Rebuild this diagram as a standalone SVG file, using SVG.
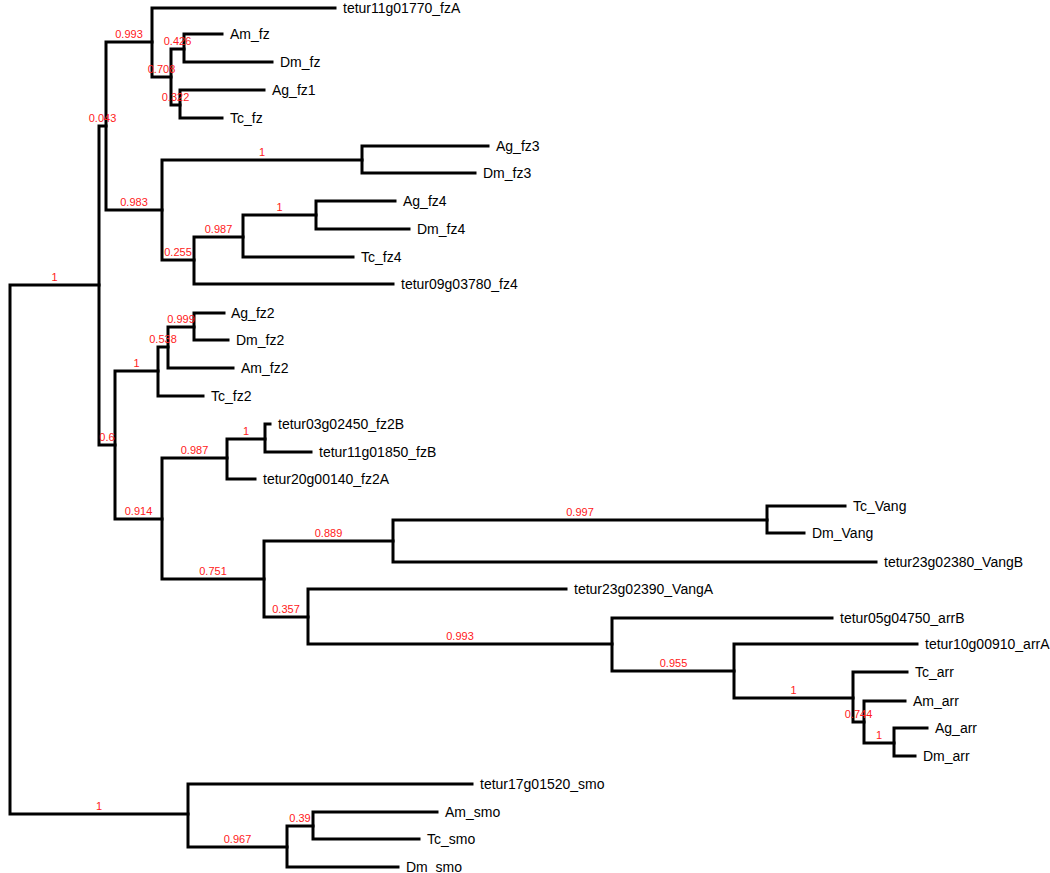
<svg xmlns="http://www.w3.org/2000/svg" width="1050" height="873" viewBox="0 0 1050 873">
<style>
.e{fill:none;stroke:#000;stroke-width:3;stroke-linejoin:miter;stroke-linecap:square}
.l{font-family:"Liberation Sans",Arial,sans-serif;font-size:14px;fill:#000}
.s{font-family:"Liberation Sans",Arial,sans-serif;font-size:11px;fill:#ff2020;text-anchor:middle}
</style>
<rect width="1050" height="873" fill="#fff"/>
<g id="connectors">
<path class="e" d="M10,549V285H99M10,549V814H188"/>
<path class="e" d="M99,285V126H106M99,285V445H115"/>
<path class="e" d="M106,126V42H152M106,126V210H162"/>
<path class="e" d="M152,42V8H335M152,42V77H171"/>
<path class="e" d="M171,77V49H184M171,77V105H180"/>
<path class="e" d="M184,49V34H222M184,49V62H272"/>
<path class="e" d="M180,105V90H264M180,105V118H222"/>
<path class="e" d="M162,210V160H362M162,210V260H194"/>
<path class="e" d="M362,160V146H488M362,160V173H475"/>
<path class="e" d="M194,260V237H243M194,260V284H393"/>
<path class="e" d="M243,237V215H316M243,237V257H353"/>
<path class="e" d="M316,215V201H395M316,215V229H409"/>
<path class="e" d="M115,445V371H158M115,445V519H162"/>
<path class="e" d="M158,371V347H168M158,371V396H203"/>
<path class="e" d="M168,347V327H194M168,347V368H233"/>
<path class="e" d="M194,327V313H224M194,327V340H228"/>
<path class="e" d="M162,519V458H227M162,519V579H264"/>
<path class="e" d="M227,458V439H265M227,458V479H255"/>
<path class="e" d="M265,439V424H270M265,439V452H311"/>
<path class="e" d="M264,579V541H393M264,579V617H308"/>
<path class="e" d="M393,541V520H767M393,541V562H876"/>
<path class="e" d="M767,520V506H845M767,520V533H804"/>
<path class="e" d="M308,617V589H566M308,617V644H612"/>
<path class="e" d="M612,644V618H832M612,644V671H734"/>
<path class="e" d="M734,671V644H917M734,671V698H853"/>
<path class="e" d="M853,698V672H907M853,698V722H864"/>
<path class="e" d="M864,722V701H905M864,722V743H894"/>
<path class="e" d="M894,743V728H927M894,743V756H915"/>
<path class="e" d="M188,814V784H472M188,814V847H287"/>
<path class="e" d="M287,847V826H313M287,847V867H398"/>
<path class="e" d="M313,826V812H437M313,826V839H419"/>
</g>
<g id="n_A"><text class="s" x="54.5" y="281">1</text></g>
<g id="n_043"><text class="s" x="102.5" y="122">0.043</text></g>
<g id="n_993a"><text class="s" x="129" y="38">0.993</text></g>
<g id="n_708"><text class="s" x="161.5" y="73">0.708</text></g>
<g id="n_426"><text class="s" x="177.5" y="45">0.426</text></g>
<g id="n_322"><text class="s" x="175.5" y="101">0.322</text></g>
<g id="n_983"><text class="s" x="134" y="206">0.983</text></g>
<g id="n_1fz3"><text class="s" x="262" y="156">1</text></g>
<g id="n_255"><text class="s" x="178" y="256">0.255</text></g>
<g id="n_987a"><text class="s" x="218.5" y="233">0.987</text></g>
<g id="n_1fz4"><text class="s" x="279.5" y="211">1</text></g>
<g id="n_06"><text class="s" x="107" y="441">0.6</text></g>
<g id="n_1fz2"><text class="s" x="136.5" y="367">1</text></g>
<g id="n_538"><text class="s" x="163" y="343">0.538</text></g>
<g id="n_999"><text class="s" x="181" y="323">0.999</text></g>
<g id="n_914"><text class="s" x="138.5" y="515">0.914</text></g>
<g id="n_987b"><text class="s" x="194.5" y="454">0.987</text></g>
<g id="n_1fz2B"><text class="s" x="246" y="435">1</text></g>
<g id="n_751"><text class="s" x="213" y="575">0.751</text></g>
<g id="n_889"><text class="s" x="328.5" y="537">0.889</text></g>
<g id="n_997"><text class="s" x="580" y="516">0.997</text></g>
<g id="n_357"><text class="s" x="286" y="613">0.357</text></g>
<g id="n_993b"><text class="s" x="460" y="640">0.993</text></g>
<g id="n_955"><text class="s" x="673.5" y="667">0.955</text></g>
<g id="n_1arr"><text class="s" x="793.5" y="694">1</text></g>
<g id="n_744"><text class="s" x="858.5" y="718">0.744</text></g>
<g id="n_1arr2"><text class="s" x="879" y="739">1</text></g>
<g id="n_smo"><text class="s" x="99" y="810">1</text></g>
<g id="n_967"><text class="s" x="237.5" y="843">0.967</text></g>
<g id="n_39"><text class="s" x="300" y="822">0.39</text></g>
<g id="leaf_tetur11g01770_fzA"><text class="l" x="343" y="13">tetur11g01770_fzA</text></g>
<g id="leaf_Am_fz"><text class="l" x="230" y="39">Am_fz</text></g>
<g id="leaf_Dm_fz"><text class="l" x="280" y="67">Dm_fz</text></g>
<g id="leaf_Ag_fz1"><text class="l" x="272" y="95">Ag_fz1</text></g>
<g id="leaf_Tc_fz"><text class="l" x="230" y="123">Tc_fz</text></g>
<g id="leaf_Ag_fz3"><text class="l" x="496" y="151">Ag_fz3</text></g>
<g id="leaf_Dm_fz3"><text class="l" x="483" y="178">Dm_fz3</text></g>
<g id="leaf_Ag_fz4"><text class="l" x="403" y="206">Ag_fz4</text></g>
<g id="leaf_Dm_fz4"><text class="l" x="417" y="234">Dm_fz4</text></g>
<g id="leaf_Tc_fz4"><text class="l" x="361" y="262">Tc_fz4</text></g>
<g id="leaf_tetur09g03780_fz4"><text class="l" x="401" y="289">tetur09g03780_fz4</text></g>
<g id="leaf_Ag_fz2"><text class="l" x="231" y="318">Ag_fz2</text></g>
<g id="leaf_Dm_fz2"><text class="l" x="236" y="345">Dm_fz2</text></g>
<g id="leaf_Am_fz2"><text class="l" x="241" y="373">Am_fz2</text></g>
<g id="leaf_Tc_fz2"><text class="l" x="211" y="401">Tc_fz2</text></g>
<g id="leaf_tetur03g02450_fz2B"><text class="l" x="278" y="429">tetur03g02450_fz2B</text></g>
<g id="leaf_tetur11g01850_fzB"><text class="l" x="319" y="457">tetur11g01850_fzB</text></g>
<g id="leaf_tetur20g00140_fz2A"><text class="l" x="263" y="484">tetur20g00140_fz2A</text></g>
<g id="leaf_Tc_Vang"><text class="l" x="853" y="511">Tc_Vang</text></g>
<g id="leaf_Dm_Vang"><text class="l" x="812" y="538">Dm_Vang</text></g>
<g id="leaf_tetur23g02380_VangB"><text class="l" x="884" y="567">tetur23g02380_VangB</text></g>
<g id="leaf_tetur23g02390_VangA"><text class="l" x="574" y="594">tetur23g02390_VangA</text></g>
<g id="leaf_tetur05g04750_arrB"><text class="l" x="840" y="623">tetur05g04750_arrB</text></g>
<g id="leaf_tetur10g00910_arrA"><text class="l" x="925" y="649">tetur10g00910_arrA</text></g>
<g id="leaf_Tc_arr"><text class="l" x="915" y="677">Tc_arr</text></g>
<g id="leaf_Am_arr"><text class="l" x="913" y="706">Am_arr</text></g>
<g id="leaf_Ag_arr"><text class="l" x="935" y="733">Ag_arr</text></g>
<g id="leaf_Dm_arr"><text class="l" x="923" y="761">Dm_arr</text></g>
<g id="leaf_tetur17g01520_smo"><text class="l" x="480" y="789">tetur17g01520_smo</text></g>
<g id="leaf_Am_smo"><text class="l" x="445" y="817">Am_smo</text></g>
<g id="leaf_Tc_smo"><text class="l" x="427" y="844">Tc_smo</text></g>
<g id="leaf_Dm_smo"><text class="l" x="406" y="872">Dm_smo</text></g>
</svg>
